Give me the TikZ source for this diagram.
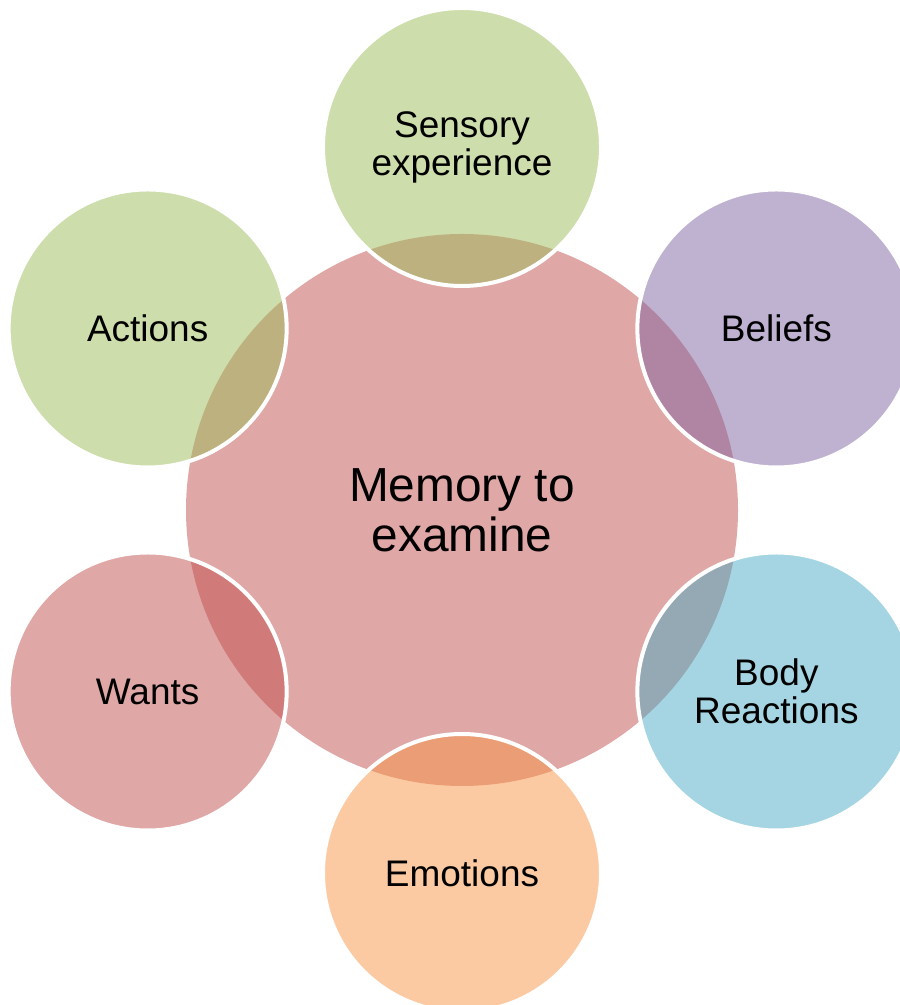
\documentclass[tikz,border=0pt]{standalone}
\usepackage{fontspec}
\setmainfont{Liberation Sans}
\usetikzlibrary{positioning}

\definecolor{memred}{HTML}{C0504D}
\definecolor{olivegreen}{HTML}{9BBB59}
\definecolor{lavender}{HTML}{8064A2}
\definecolor{aqua}{HTML}{4BACC6}
\definecolor{tangerine}{HTML}{F79646}

\begin{document}
\begin{tikzpicture}[
    core_circle/.style={
        circle, inner sep=0pt, minimum size=13.8cm,
        fill opacity=.5, text opacity=1, align=center,
        font=\fontsize{34pt}{35.4pt}\selectfont
    },
    part_circle/.style={
        circle, inner sep=0pt, minimum size=6.95cm,
        draw=white, draw opacity=1, line width=.1cm,
        fill opacity=.5, text opacity=1, align=center,
        font=\fontsize{26.3pt}{27pt}\selectfont
    }
]
    \useasboundingbox (0,0) rectangle (22.475,25.125);

    \node[core_circle,fill=memred] at (11.55,12.375) (memory){Memory to\\examine};

    \node[part_circle,fill=olivegreen] at (11.55,21.45) (sensory){Sensory\\experience};
    \node[part_circle,fill=olivegreen] at (3.691,16.9125) (actions){Actions};
    \node[part_circle,fill=lavender] at (19.409,16.9125) (beliefs){Beliefs};
    \node[part_circle,fill=memred] at (3.691,7.8375) (wants){Wants};
    \node[part_circle,fill=aqua] at (19.409,7.8375) (body){Body\\Reactions};
    \node[part_circle,fill=tangerine] at (11.55,3.3) (emotions){Emotions};

\end{tikzpicture}
\end{document}
